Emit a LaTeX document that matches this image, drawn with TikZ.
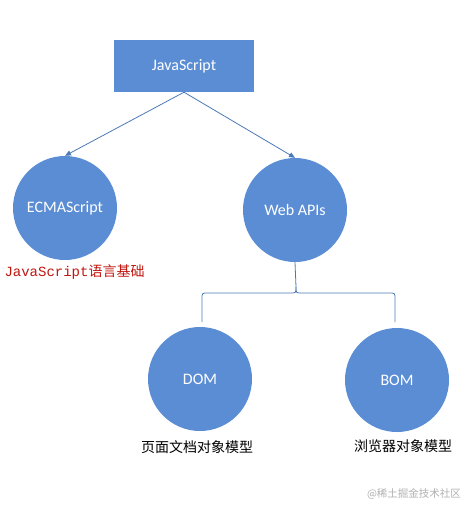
\documentclass[tikz,border=0pt]{standalone}
\usepackage{fontspec}
\setmainfont{Carlito}
\newfontfamily\cjk{Noto Sans CJK SC}
\newfontfamily\codefont{Liberation Mono}
\usetikzlibrary{arrows.meta}
\definecolor{boxblue}{HTML}{5B8DD5}
\definecolor{linkblue}{HTML}{4C79B6}
\definecolor{codered}{HTML}{C0150F}
\definecolor{wmark}{HTML}{B0B0B0}
\tikzset{
  topbox/.style={fill=boxblue, minimum width=140pt, minimum height=52pt, inner sep=0pt,
    text=white, font=\fontsize{16}{19}\selectfont},
  ball/.style={circle, fill=boxblue, minimum size=104pt, inner sep=0pt,
    text=white, font=\fontsize{16}{19}\selectfont},
  link/.style={draw=linkblue, line width=0.8pt, -{Triangle[length=6pt,width=5pt]}},
  brace/.style={draw=linkblue, line width=0.8pt},
  note/.style={font=\cjk\fontsize{14}{17}\selectfont}
}

\begin{document}
\begin{tikzpicture}[x=1pt, y=-1pt]
\useasboundingbox (0,0) rectangle (472,514);
% top box
\node[topbox] (js) at (184,66) {JavaScript};
% second row
\node[ball] (ecma) at (65,208) {ECMAScript};
\node[ball] (web) at (295,210) {Web APIs};
\node[anchor=west, text=codered] (core) at (1,272)
  {\fontsize{14}{17}\selectfont\codefont JavaScript\cjk 语言基础};
% arrows
\draw[link] (js.south) -- (ecma.north);
\draw[link] (js.south) -- (web.north);
% third row
\node[ball] (dom) at (200,379) {DOM};
\node[ball] (bom) at (397,380) {BOM};
\node[note] (domtxt) at (197,447) {页面文档对象模型};
\node[note] (bomtxt) at (403,446) {浏览器对象模型};

% brace under Web APIs
\coordinate (fork) at (296,287);
\coordinate (domend) at (202,322);
\coordinate (bomend) at (395,322);
\draw[brace] (web.south) -- (fork);
\draw[brace] (fork) .. controls (296,293) .. (290,293) -- (208,293)
  .. controls (202,293) .. (202,299) -- (domend);
\draw[brace] (fork) .. controls (296,293) .. (302,293) -- (389,293)
  .. controls (395,293) .. (395,299) -- (bomend);

% watermark
\node[text=wmark, font=\cjk\fontsize{10.5}{12}\selectfont] (wm) at (414,494) {@稀土掘金技术社区};
\end{tikzpicture}
\end{document}
